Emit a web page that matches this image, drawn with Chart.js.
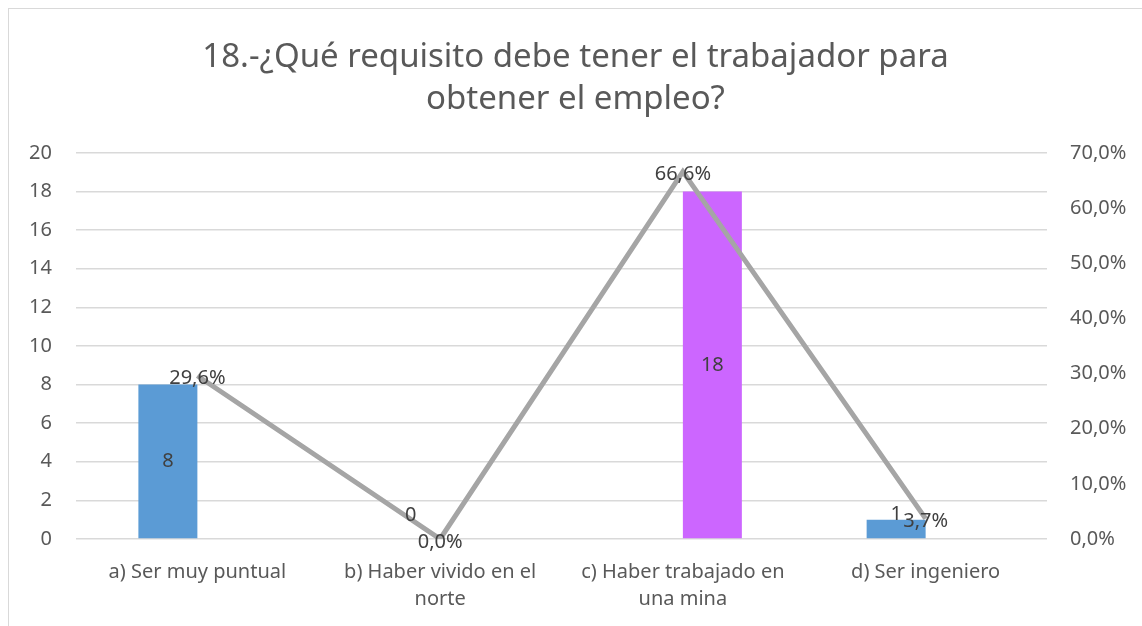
<!DOCTYPE html>
<html>
<head>
<meta charset="utf-8">
<script src="https://cdn.jsdelivr.net/npm/chart.js@4"></script>
<style>
  html, body { margin: 0; padding: 0; background: #fff; }
  #box {
    position: absolute; left: 8px; top: 8px;
    width: 1133px; height: 617px;
    border-left: 1px solid #d9d9d9; border-top: 1px solid #d9d9d9;
  }
  canvas { display: block; }
</style>
</head>
<body>
<div id="box"><canvas id="grafico" width="1133" height="617"></canvas></div>
<script>
var categorias = [
  ['a) Ser muy puntual'],
  ['b) Haber vivido en el', 'norte'],
  ['c) Haber trabajado en', 'una mina'],
  ['d) Ser ingeniero']
];
// frecuencia: two bar series as in the original sheet
var frecuenciaAzul = [8, 0, null, 1];
var frecuenciaMorada = [null, null, 18, null];
var porcentaje = [29.6, 0.0, 66.6, 3.7];

var ticksIzq = [0, 2, 4, 6, 8, 10, 12, 14, 16, 18, 20];
var ticksDer = [0, 10, 20, 30, 40, 50, 60, 70];

var fuente = 'Noto Sans';
var gris = '#595959';

function coma(v, dec) {
  return v.toFixed(dec).replace('.', ',');
}

// data labels like excel
var etiquetas = {
  id: 'etiquetas',
  afterDatasetsDraw: function(chart) {
    var ctx = chart.ctx;
    ctx.save();
    ctx.font = '20px "' + fuente + '"';
    ctx.fillStyle = '#404040';
    ctx.textAlign = 'center';
    ctx.textBaseline = 'middle';
    chart.data.datasets.forEach(function(ds, i) {
      var meta = chart.getDatasetMeta(i);
      meta.data.forEach(function(el, j) {
        var v = ds.data[j];
        if (v === null || v === undefined) return;
        if (ds.type === 'line') {
          ctx.fillText(coma(v, 1) + '%', el.x, el.y + 3);
        } else {
          var h = el.base - el.y;
          var y = h > 30 ? (el.y + el.base) / 2 : el.base - 24;
          ctx.fillText(String(v), el.x, y);
        }
      });
    });
    ctx.restore();
  }
};

new Chart(document.getElementById('grafico').getContext('2d'), {
  data: {
    labels: categorias,
    datasets: [
      {
        type: 'line',
        label: 'Porcentaje',
        data: porcentaje,
        yAxisID: 'y1',
        borderColor: '#a5a5a5',
        borderWidth: 5,
        pointRadius: 0,
        tension: 0,
        order: 0
      },
      {
        type: 'bar',
        label: 'Frecuencia',
        data: frecuenciaAzul,
        yAxisID: 'y',
        backgroundColor: '#5b9bd5',
        categoryPercentage: 0.486,
        barPercentage: 1,
        order: 1
      },
      {
        type: 'bar',
        label: 'Frecuencia 2',
        data: frecuenciaMorada,
        yAxisID: 'y',
        backgroundColor: '#cc66ff',
        categoryPercentage: 0.486,
        barPercentage: 1,
        order: 1
      }
    ]
  },
  options: {
    responsive: false,
    animation: false,
    layout: { padding: 0 },
    plugins: {
      legend: { display: false },
      tooltip: { enabled: false },
      title: {
        display: true,
        text: ['18.-¿Qué requisito debe tener el trabajador para', 'obtener el empleo?'],
        color: gris,
        font: { family: fuente, size: 33, weight: 'normal', lineHeight: 1.27 },
        padding: { top: 28, bottom: 32 }
      }
    },
    scales: {
      x: {
        grid: { display: false, drawTicks: false },
        border: { display: false },
        afterFit: function(s) { s.height = 87; },
        ticks: {
          color: gris,
          font: { family: fuente, size: 20, lineHeight: 1.35 },
          padding: 20,
          maxRotation: 0,
          autoSkip: false
        }
      },
      y: {
        position: 'left',
        min: 0,
        max: 20,
        afterBuildTicks: function(s) { s.ticks = ticksIzq.map(function(v) { return { value: v }; }); },
        afterFit: function(s) { s.width = 67; },
        grid: { color: '#d9d9d9', lineWidth: 1.5, drawTicks: false },
        border: { display: false },
        ticks: { color: gris, font: { family: fuente, size: 20 }, padding: 24 }
      },
      y1: {
        position: 'right',
        min: 0,
        max: 70,
        afterBuildTicks: function(s) { s.ticks = ticksDer.map(function(v) { return { value: v }; }); },
        afterFit: function(s) { s.width = 95; },
        grid: { display: false, drawTicks: false },
        border: { display: false },
        ticks: {
          color: gris,
          font: { family: fuente, size: 20 },
          padding: 23,
          callback: function(v) { return coma(v, 1) + '%'; }
        }
      }
    }
  },
  plugins: [etiquetas]
});
</script>
</body>
</html>
